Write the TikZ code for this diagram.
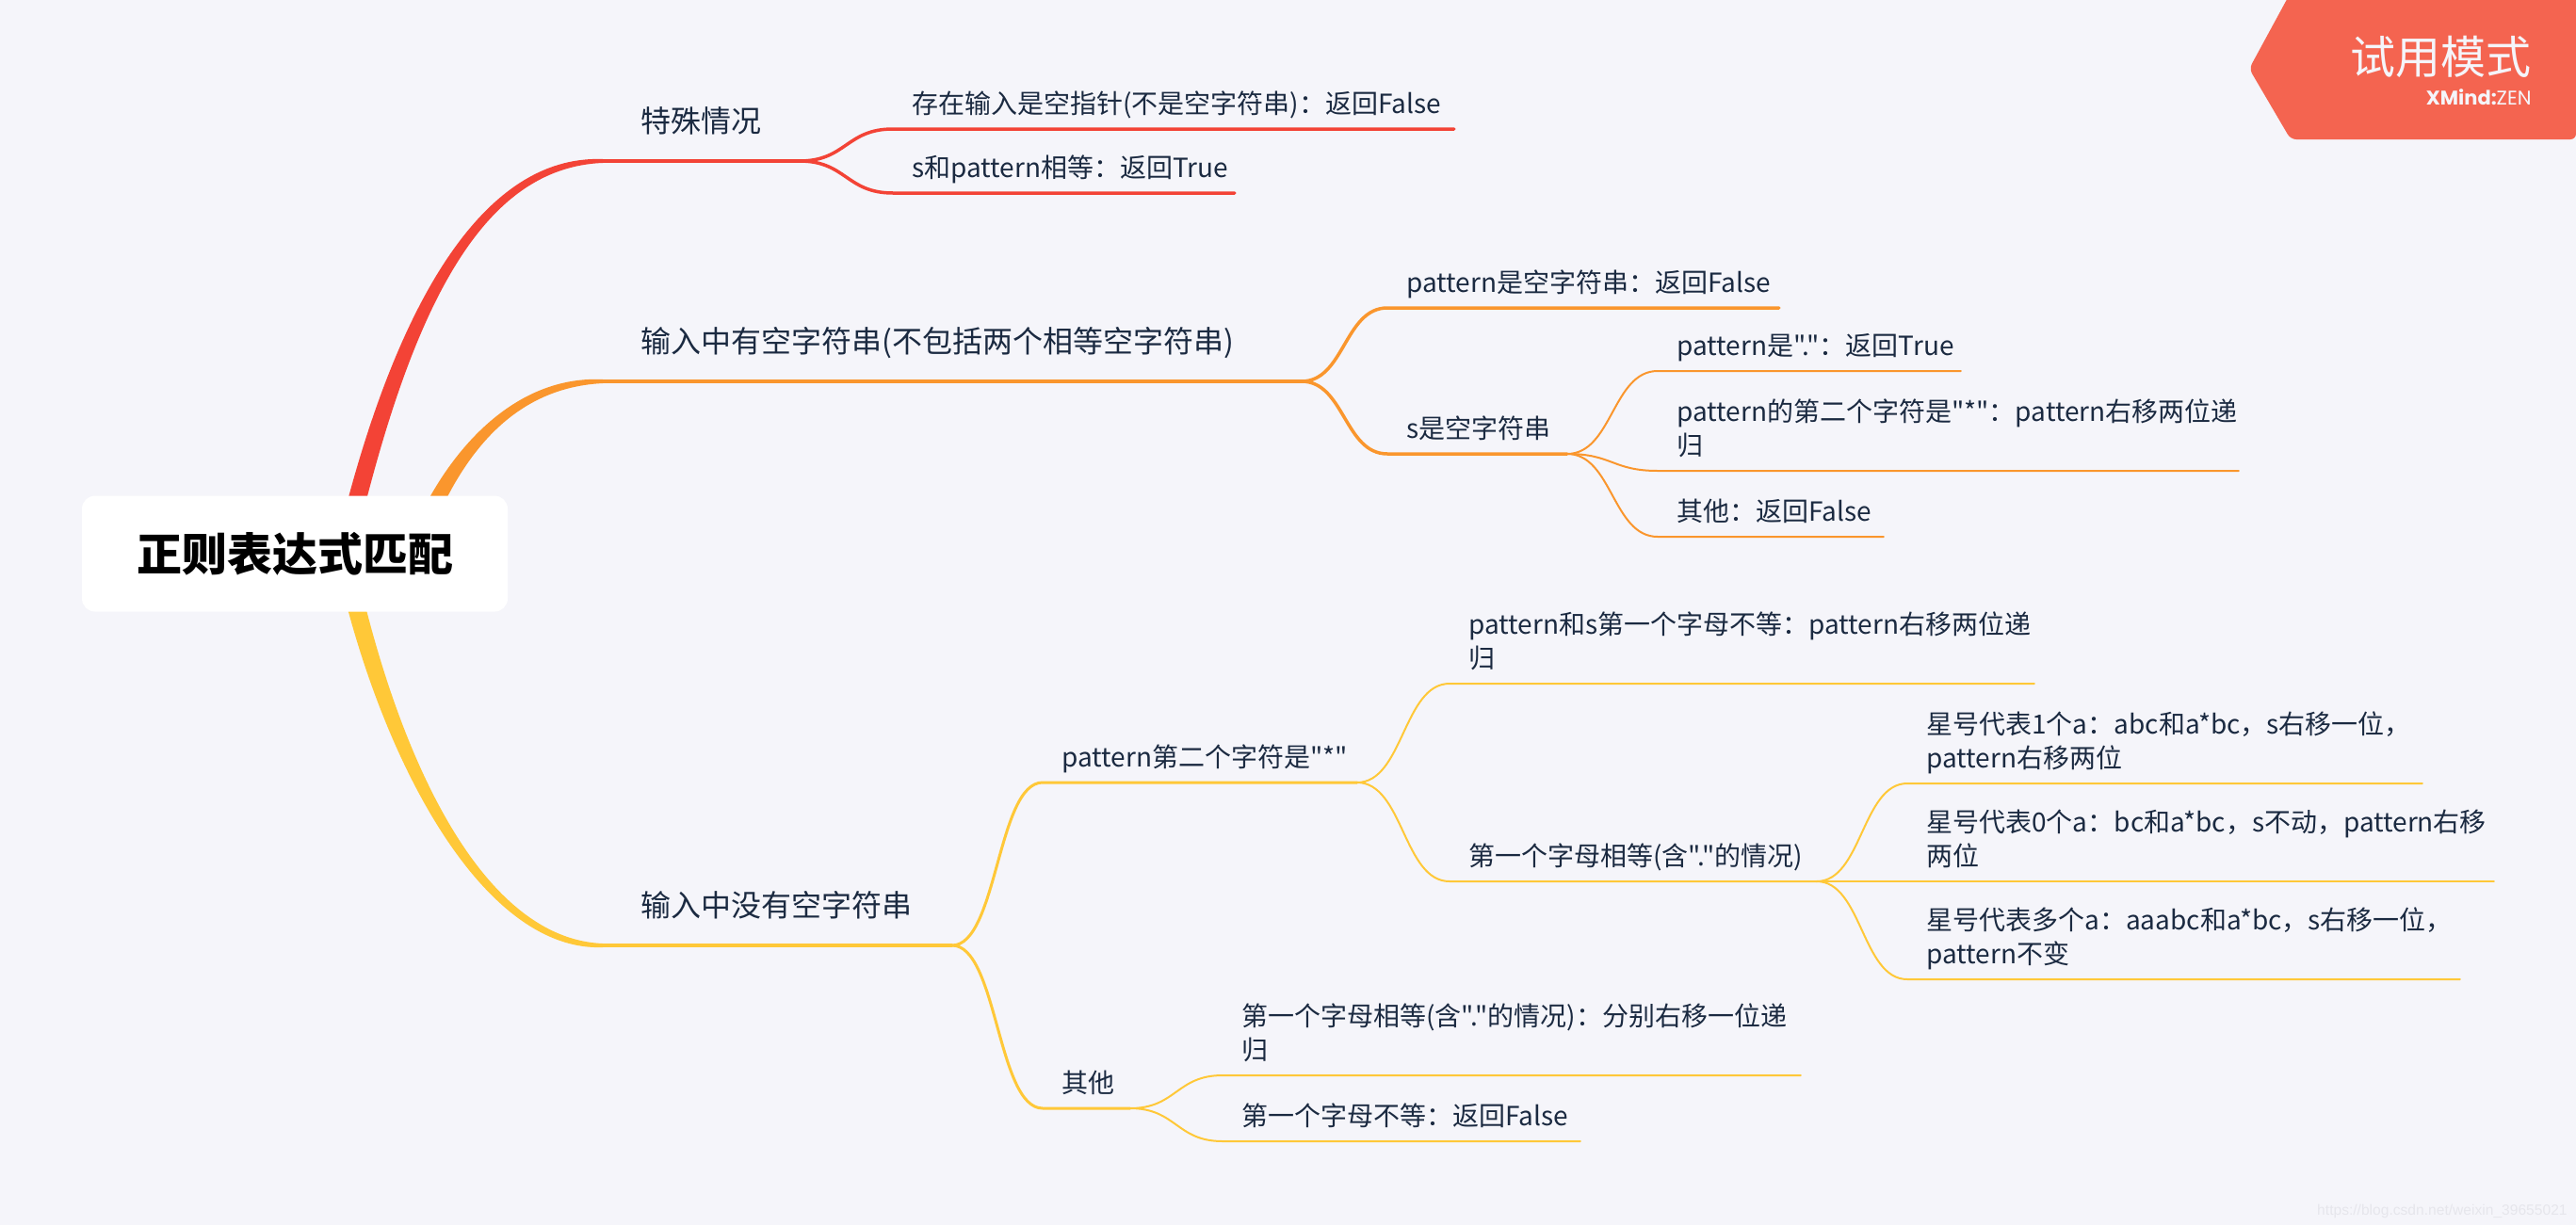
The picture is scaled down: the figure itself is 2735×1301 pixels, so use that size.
\documentclass[tikz,border=0pt]{standalone}
\usepackage{fontspec}
\setmainfont{Noto Sans CJK SC}[Ligatures=TeXOff]
\newfontfamily\brandfont{Poppins}
\newfontfamily\markfont{Liberation Sans}
\usetikzlibrary{backgrounds, calc}

\definecolor{paper}{HTML}{F5F5FA}
\definecolor{ink}{HTML}{1B2A41}
\definecolor{redline}{HTML}{F34336}
\definecolor{orangeline}{HTML}{FA962D}
\definecolor{yellowline}{HTML}{FFC838}
\definecolor{badge}{HTML}{F46450}
\definecolor{mark}{HTML}{E6E6EC}

\newcommand{\topicfont}[2]{\fontsize{#1}{#2}\selectfont\hyphenpenalty=10000\relax}

% taper from the root: colour, topic, start shift, first control, second control, side
\newcommand{\mainbranch}[6]{
    \fill[#1] ([xshift=#3-5pt]root.center) .. controls +(#4) and ([xshift=#5, yshift=#6*3.5pt]#2.south west)
        .. ([yshift=#6*1pt]#2.south west) -- ([yshift=-#6*1pt]#2.south west)
        .. controls ([xshift=#5, yshift=-#6*3.5pt]#2.south west) and ([xshift=#3+5pt, shift={(#4)}]root.center)
        .. ([xshift=#3+5pt]root.center) -- cycle;
    \draw[#1, line width=2pt] (#2.south west) -- (#2.south east);
}

\begin{document}
\begin{tikzpicture}[
        x=0.5pt, y=-0.5pt,
        topic/.style={anchor=south west, inner xsep=10pt, inner ysep=8pt, text depth=0pt, text=ink,
            text width=#1*0.5pt-20pt, align=left, font=\topicfont{14}{18}},
        maintopic/.style={topic=#1, inner xsep=20pt, inner ysep=15pt, text width=#1*0.5pt-40pt,
            font=\topicfont{16}{20}},
        twoline/.style={text depth=18pt},
        branch/.style={line width=#1, line cap=round},
        link/.style={to path={.. controls ($(\tikztostart)!0.5!(\tikztostart-|\tikztotarget)$)
            and ($(\tikztotarget)!0.5!(\tikztotarget-|\tikztostart)$) .. (\tikztotarget)}}
    ]
        \useasboundingbox (0,0) rectangle (2735,1301);

        % Root
        \node[fill=white, rounded corners=7pt, minimum width=226pt, minimum height=61.5pt,
            font=\fontsize{24}{28}\selectfont\bfseries] (root) at (313,588) {正则表达式匹配};

        % Special cases
        \node[maintopic=208] (special) at (640,171) {特殊情况};
        \node[topic=595] (nullcase) at (948,137) {存在输入是空指针(不是空字符串)：返回False};
        \node[topic=362] (samecase) at (948,205) {s和pattern相等：返回True};

        % Empty string in the input
        \node[maintopic=741] (hasempty) at (640,405) {输入中有空字符串(不包括两个相等空字符串)};
        \node[topic=415] (patempty) at (1473,327) {pattern是空字符串：返回False};
        \node[topic=190] (sempty) at (1473,482) {s是空字符串};
        \node[topic=321] (dotcase) at (1760,394) {pattern是"."：返回True};
        \node[topic=616, twoline] (starcase) at (1760,500) {pattern的第二个字符是"*"：pattern右移两位递\\归};
        \node[topic=239] (restcase) at (1760,570) {其他：返回False};

        % No empty string in the input
        \node[maintopic=370] (noempty) at (640,1004) {输入中没有空字符串};
        \node[topic=333] (secondstar) at (1107,831) {pattern第二个字符是"*"};
        \node[topic=92] (others) at (1107,1177) {其他};
        \node[topic=620, twoline] (mismatch) at (1539,726) {pattern和s第一个字母不等：pattern右移两位递\\归};
        \node[topic=389] (firstsame) at (1539,936) {第一个字母相等(含"."的情况)};
        \node[topic=546, twoline] (onea) at (2025,832) {星号代表1个a：abc和a*bc，s右移一位，\\pattern右移两位};
        \node[topic=622, twoline] (zeroa) at (2025,936) {星号代表0个a：bc和a*bc，s不动，pattern右移\\两位};
        \node[topic=586, twoline] (manya) at (2025,1040) {星号代表多个a：aaabc和a*bc，s右移一位，\\pattern不变};
        \node[topic=613, twoline] (bothsame) at (1298,1142) {第一个字母相等(含"."的情况)：分别右移一位递\\归};
        \node[topic=379] (bothdiff) at (1298,1212) {第一个字母不等：返回False};

        % Trial badge
        \fill[badge, rounded corners=3pt] (2432,-8) -- (2735,-8) -- (2735,148) -- (2432,148) -- (2388,73) -- cycle;
        \node[anchor=east, inner sep=0pt, text=paper, font=\fontsize{24}{28}\selectfont] (trial) at (2688,60) {试用模式};
        \node[anchor=east, inner sep=0pt, text=paper, font=\fontsize{10.5}{12}\brandfont] (brand) at (2688,103) {\textbf{XMind:}ZEN};
        \node[anchor=south east, inner sep=0pt, text=mark, font=\fontsize{7.8}{10}\markfont] (watermark) at (2726,1294) {https://blog.csdn.net/weixin\_39655021};

        \begin{scope}[on background layer]
            \fill[paper] (0,0) rectangle (2735,1301);

            % Branches out of the root
            \mainbranch{redline}{special}{26pt}{60,-258}{-65pt}{1}
            \mainbranch{orangeline}{hasempty}{63pt}{35,-98}{-50pt}{1}
            \mainbranch{yellowline}{noempty}{26pt}{45,212}{-65pt}{-1}

            % Second level
            \foreach \from/\to/\col/\wd in {
                special/nullcase/redline/1.75pt, special/samecase/redline/1.75pt,
                hasempty/patempty/orangeline/1.75pt, hasempty/sempty/orangeline/1.75pt,
                noempty/secondstar/yellowline/1.5pt, noempty/others/yellowline/1.5pt} {
                \draw[\col, branch=\wd] (\from.south east) to[link] (\to.south west) -- (\to.south east);
            }

            % Third level
            \foreach \from/\to/\col in {
                sempty/dotcase/orangeline, sempty/starcase/orangeline, sempty/restcase/orangeline,
                secondstar/mismatch/yellowline, secondstar/firstsame/yellowline,
                firstsame/onea/yellowline, firstsame/zeroa/yellowline, firstsame/manya/yellowline,
                others/bothsame/yellowline, others/bothdiff/yellowline} {
                \draw[\col, branch=1pt] (\from.south east) to[link] (\to.south west) -- (\to.south east);
            }
        \end{scope}
    \end{tikzpicture}
\end{document}
